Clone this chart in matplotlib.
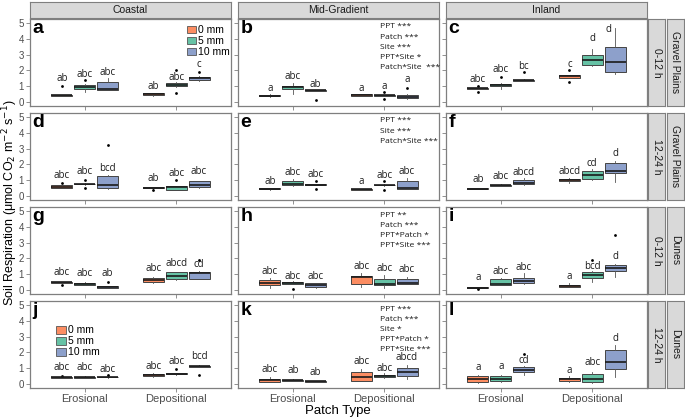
import matplotlib
matplotlib.use('Agg')
import matplotlib.pyplot as plt
from matplotlib.patches import Patch

# ---- data (order in each row: Erosional 0/5/10 mm, Depositional 0/5/10 mm) ----
panel_ids = ['a', 'b', 'c', 'd', 'e', 'f', 'g', 'h', 'i', 'j', 'k', 'l']
sites = ['Coastal', 'Mid-Gradient', 'Inland']
times = ['0-12 h', '12-24 h', '0-12 h', '12-24 h']
habitats = ['Gravel Plains', 'Gravel Plains', 'Dunes', 'Dunes']
patch_types = ['Erosional', 'Depositional']
ppt_levels = ['0 mm', '5 mm', '10 mm']

q1 = [
    [0.38, 0.83, 0.77, 0.46, 1.00, 1.42],
    [0.38, 0.83, 0.72, 0.40, 0.40, 0.27],
    [0.83, 1.00, 1.33, 1.52, 2.33, 1.92],
    [0.50, 0.73, 0.50, 0.48, 0.40, 0.56],
    [0.42, 0.67, 0.69, 0.38, 0.67, 0.46],
    [0.44, 0.65, 0.79, 0.94, 1.08, 1.46],
    [0.46, 0.31, 0.13, 0.53, 0.67, 0.71],
    [0.29, 0.38, 0.21, 0.38, 0.29, 0.38],
    [0.13, 0.32, 0.42, 0.19, 0.78, 1.22],
    [0.40, 0.38, 0.42, 0.49, 0.64, 1.10],
    [0.13, 0.20, 0.15, 0.21, 0.42, 0.53],
    [0.13, 0.17, 0.76, 0.21, 0.11, 0.97],
]
med = [
    [0.42, 0.94, 0.85, 0.50, 1.10, 1.52],
    [0.40, 0.94, 0.75, 0.46, 0.42, 0.35],
    [0.875, 1.08, 1.375, 1.62, 2.67, 2.50],
    [0.58, 0.77, 0.69, 0.52, 0.56, 0.69],
    [0.46, 0.77, 0.71, 0.42, 0.69, 0.54],
    [0.46, 0.69, 0.85, 1.00, 1.33, 1.56],
    [0.48, 0.38, 0.19, 0.65, 0.90, 1.05],
    [0.46, 0.44, 0.31, 0.80, 0.38, 0.46],
    [0.15, 0.38, 0.55, 0.25, 0.95, 1.39],
    [0.42, 0.42, 0.44, 0.57, 0.66, 1.12],
    [0.23, 0.23, 0.17, 0.42, 0.51, 0.74],
    [0.30, 0.34, 0.91, 0.30, 0.32, 1.38],
]
q3 = [
    [0.45, 1.08, 1.25, 0.56, 1.20, 1.60],
    [0.42, 1.04, 0.77, 0.52, 0.44, 0.44],
    [0.90, 1.15, 1.42, 1.71, 2.96, 3.48],
    [0.67, 0.79, 1.29, 0.55, 0.62, 0.92],
    [0.48, 0.98, 0.73, 0.44, 0.71, 0.92],
    [0.48, 0.71, 1.00, 1.06, 1.56, 2.08],
    [0.50, 0.46, 0.25, 0.74, 1.13, 1.16],
    [0.63, 0.53, 0.42, 0.88, 0.67, 0.71],
    [0.17, 0.67, 0.76, 0.34, 1.11, 1.60],
    [0.44, 0.47, 0.46, 0.66, 0.68, 1.14],
    [0.32, 0.27, 0.19, 0.76, 0.59, 1.02],
    [0.49, 0.51, 1.10, 0.40, 0.66, 2.18],
]
whislo = [
    [0.36, 0.62, 0.73, 0.37, 0.95, 1.35],
    [0.30, 0.52, 0.70, 0.38, 0.38, 0.20],
    [0.80, 0.83, 1.30, 1.50, 2.30, 1.77],
    [0.48, 0.70, 0.42, 0.46, 0.38, 0.54],
    [0.40, 0.65, 0.67, 0.36, 0.65, 0.44],
    [0.42, 0.63, 0.71, 0.83, 1.04, 0.875],
    [0.44, 0.29, 0.11, 0.46, 0.63, 0.67],
    [0.15, 0.36, 0.13, 0.21, 0.13, 0.36],
    [0.12, 0.30, 0.40, 0.17, 0.50, 0.80],
    [0.38, 0.36, 0.40, 0.45, 0.56, 1.05],
    [0.11, 0.18, 0.14, 0.19, 0.40, 0.34],
    [0.08, 0.12, 0.59, 0.15, 0.09, 0.42],
]
whishi = [
    [0.47, 1.12, 1.54, 0.58, 1.25, 1.65],
    [0.50, 1.19, 0.79, 0.54, 0.46, 0.48],
    [0.93, 1.18, 1.45, 1.73, 3.33, 4.69],
    [0.69, 0.81, 1.31, 0.57, 0.64, 0.94],
    [0.50, 1.08, 0.75, 0.46, 0.73, 1.15],
    [0.50, 0.73, 1.12, 1.17, 1.71, 2.23],
    [0.52, 0.48, 0.27, 0.84, 1.17, 1.18],
    [0.78, 0.55, 0.46, 1.09, 0.92, 0.84],
    [0.18, 0.76, 1.05, 0.42, 1.20, 1.65],
    [0.46, 0.49, 0.48, 0.70, 0.70, 1.22],
    [0.42, 0.29, 0.20, 0.97, 0.68, 1.23],
    [0.55, 0.59, 1.14, 0.51, 0.76, 2.50],
]
outliers = [
    [[1.04], [1.37], [], [], [2.02, 0.58], [1.92]],
    [[], [], [0.10], [], [0.62, 0.21], [0.90]],
    [[1.00, 0.62], [1.58], [1.875], [2.02, 1.29], [], []],
    [[0.83], [1.04, 0.52], [3.21], [0.40], [1.00], []],
    [[], [], [0.92, 0.46], [], [0.92, 0.375], []],
    [[], [], [], [], [], []],
    [[0.29], [], [0.48], [], [], [1.93]],
    [[], [0.04], [], [], [], []],
    [[0.08], [], [], [], [1.93], [3.51]],
    [[0.53], [], [0.57], [], [0.95], [0.59]],
    [[], [], [], [], [], []],
    [[], [], [1.91], [], [], []],
]
letters = [
    ['ab', 'abc', 'abc', 'ab', 'abc', 'c'],
    ['a', 'abc', 'ab', 'a', 'a', 'a'],
    ['abc', 'abc', 'bc', 'c', 'd', 'd'],
    ['abc', 'abc', 'bcd', 'ab', 'abc', 'abc'],
    ['ab', 'abc', 'abc', 'a', 'abc', 'abc'],
    ['ab', 'abc', 'abcd', 'abcd', 'cd', 'd'],
    ['abc', 'abc', 'ab', 'abc', 'abcd', 'cd'],
    ['abc', 'abc', 'abc', 'abc', 'abc', 'abc'],
    ['a', 'abc', 'abc', 'a', 'bcd', 'd'],
    ['abc', 'abc', 'abc', 'abc', 'abc', 'bcd'],
    ['abc', 'ab', 'ab', 'abc', 'abc', 'abcd'],
    ['a', 'a', 'cd', 'a', 'abc', 'd'],
]
letter_y = [
    [1.50, 1.77, 1.88, 1.00, 1.54, 2.35],
    [0.83, 1.62, 1.12, 0.87, 1.00, 1.40],
    [1.42, 2.04, 2.25, 2.40, 4.00, 4.60],
    [1.29, 1.54, 1.71, 1.08, 1.44, 1.56],
    [0.92, 1.50, 1.375, 0.92, 1.31, 1.58],
    [1.02, 1.25, 1.50, 1.54, 2.04, 2.69],
    [1.09, 1.05, 1.05, 1.34, 1.66, 1.60],
    [1.20, 0.84, 0.84, 1.51, 1.34, 1.30],
    [0.78, 1.20, 1.41, 0.84, 1.51, 2.10],
    [1.02, 1.02, 0.95, 1.12, 1.44, 1.76],
    [0.91, 0.85, 0.76, 1.40, 0.97, 1.65],
    [1.02, 1.08, 1.48, 0.85, 1.38, 2.88],
]
anova = {
    1: ['PPT ***', 'Patch ***', 'Site ***', 'PPT*Site *', 'Patch*Site  ***'],
    4: ['PPT ***', 'Site ***', 'Patch*Site ***'],
    7: ['PPT **', 'Patch ***', 'PPT*Patch *', 'PPT*Site ***'],
    10: ['PPT ***', 'Patch ***', 'Site *', 'PPT*Patch *', 'PPT*Site ***'],
}

colors = ['#FC8D62', '#66C2A5', '#8DA0CB']
grey = '#7F7F7F'
strip_fill = '#D9D9D9'

plt.rcParams['font.family'] = ['Liberation Sans', 'DejaVu Sans']

W, H = 685, 419
fig = plt.figure(figsize=(W / 100, H / 100), dpi=100)


def rect(x, y, w, h):
    return [x / W, 1 - (y + h) / H, w / W, h / H]


col_x = [30, 238, 446]
row_y = [19, 113, 207, 301]
pw, ph = 201, 87
offsets = [-0.25, 0, 0.25]


def strip(x, y, w, h, label, rot=0):
    s = fig.add_axes(rect(x, y, w, h))
    s.set_facecolor(strip_fill)
    s.set_xticks([])
    s.set_yticks([])
    for sp in s.spines.values():
        sp.set_color(grey)
        sp.set_linewidth(0.8)
    s.text(0.5, 0.5, label, transform=s.transAxes, ha='center', va='center',
           rotation=rot, fontsize=7.5, color='#1A1A1A')


for c in range(3):
    strip(col_x[c], 2, pw, 16, sites[c])
for r in range(4):
    strip(648, row_y[r], 17, ph, times[r], rot=-90)
    strip(667, row_y[r], 17, ph, habitats[r], rot=-90)

for k in range(12):
    r, c = divmod(k, 3)
    ax = fig.add_axes(rect(col_x[c], row_y[r], pw, ph))
    positions = []
    stats = []
    for j in range(6):
        g, p = divmod(j, 3)
        positions.append(g + 1 + offsets[p])
        stats.append(dict(q1=q1[k][j], med=med[k][j], q3=q3[k][j],
                          whislo=whislo[k][j], whishi=whishi[k][j],
                          fliers=outliers[k][j]))
    bp = ax.bxp(stats, positions=positions, widths=0.23, patch_artist=True,
                showcaps=False,
                boxprops=dict(edgecolor='#444444', linewidth=0.7),
                medianprops=dict(color='#1A1A1A', linewidth=1.2),
                whiskerprops=dict(color='#555555', linewidth=0.6),
                flierprops=dict(marker='o', markersize=2, markerfacecolor='black',
                                markeredgecolor='none'))
    for j, box in enumerate(bp['boxes']):
        box.set_facecolor(colors[j % 3])
    for j in range(6):
        dx = -0.07 if (k == 2 and j == 5) else 0
        ax.text(positions[j] + dx, letter_y[k][j], letters[k][j], ha='center',
                va='center', fontsize=7, family=['Open Sans', 'DejaVu Sans'],
                color='#1A1A1A')

    ax.set_xlim(0.4, 2.6)
    ax.set_ylim(-0.25, 5.25)
    ax.set_xticks([1, 2])
    ax.set_yticks(range(6))
    ax.tick_params(length=3, width=0.6, color=grey, labelcolor='#4D4D4D',
                   labelsize=7, pad=1.5)
    if c == 0:
        ax.set_yticklabels([str(v) for v in range(6)])
    else:
        ax.set_yticklabels([])
    if r == 3:
        ax.set_xticklabels(patch_types, fontsize=8)
    else:
        ax.set_xticklabels([])
    for sp in ax.spines.values():
        sp.set_color(grey)
        sp.set_linewidth(0.9)

    ax.text(0.012, 0.985, panel_ids[k], transform=ax.transAxes, ha='left',
            va='top', fontsize=14, fontweight='bold')

    if k in anova:
        for i, line in enumerate(anova[k]):
            ax.text(0.705, 1 - (8 + i * 10.2) / ph, line, transform=ax.transAxes,
                    ha='left', va='center', fontsize=6.1,
                    family=['Open Sans', 'DejaVu Sans'], color='#1A1A1A')

    if k in (0, 9):
        handles = [Patch(facecolor=colors[i], edgecolor='#555555', linewidth=0.6)
                   for i in range(3)]
        if k == 0:
            kw = dict(loc='upper right', bbox_to_anchor=(0.995, 0.93))
        else:
            kw = dict(loc='upper left', bbox_to_anchor=(0.13, 0.72))
        ax.legend(handles, ppt_levels, frameon=False, fontsize=7.5,
                  handlelength=0.9, handleheight=0.75, handletextpad=0.2,
                  labelspacing=0.1, borderpad=0, borderaxespad=0, **kw)

fig.text(10 / W, 1 - 203 / H,
         'Soil Respiration (\u03bcmol CO$_2$ m$^{-2}$ s$^{-1}$)',
         rotation=90, ha='center', va='center', fontsize=9)
fig.text(338 / W, 1 - 411 / H, 'Patch Type', ha='center', va='center',
         fontsize=9.5)

fig.savefig('out.png', dpi=100)
